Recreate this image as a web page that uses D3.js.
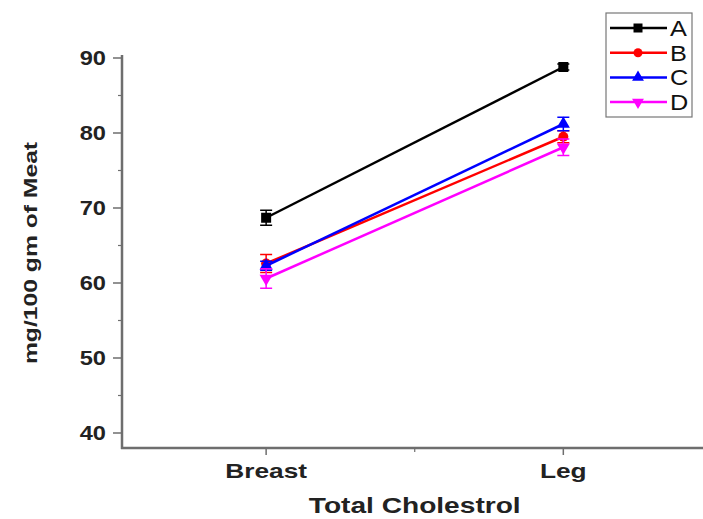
<!DOCTYPE html>
<html>
<head>
<meta charset="utf-8">
<script src="https://cdn.jsdelivr.net/npm/d3@7"></script>
<style>
  body { margin: 0; background: #fff; }
  text { font-family: "Liberation Sans", Arial, sans-serif; font-weight: bold; }
</style>
</head>
<body>
<div id="chart"></div>
<script>
// categories and series
const categories = ["Breast", "Leg"];
const seriesNames = ["A", "B", "C", "D"];
const seriesColors = ["#000000", "#ff0000", "#0000ff", "#ff00ff"];
const seriesValues = [
  [68.7, 88.8],
  [62.6, 79.5],
  [62.3, 81.2],
  [60.6, 78.1]
];
const seriesErrors = [
  [1.0, 0.4],
  [1.2, 0.8],
  [0.6, 0.9],
  [1.3, 1.1]
];
const yTicks = [40, 50, 60, 70, 80, 90];
const yMinorTicks = [45, 55, 65, 75, 85];

const W = 703, H = 519;
const svg = d3.select("#chart").append("svg")
  .attr("width", W).attr("height", H);

// x positions: category index 1, 2 on a linear scale
const x = d3.scaleLinear().domain([0.515, 2.47]).range([122, 703]);
const y = d3.scaleLinear().domain([38, 90.4]).range([448, 55]);

const axisColor = "#6e6e6e";
const STRETCH = 1.25; // the original lettering is wide

// y axis
const yAxis = svg.append("g").attr("transform", "translate(122,0)");
yAxis.append("line").attr("y1", y(90.4)).attr("y2", y(38) + 1)
  .attr("stroke", axisColor).attr("stroke-width", 2.5);
yAxis.selectAll("line.major").data(yTicks).enter().append("line")
  .attr("x1", -9).attr("x2", 0)
  .attr("y1", d => y(d)).attr("y2", d => y(d))
  .attr("stroke", axisColor).attr("stroke-width", 1.5);
yAxis.selectAll("line.minor").data(yMinorTicks).enter().append("line")
  .attr("x1", -4).attr("x2", 0)
  .attr("y1", d => y(d)).attr("y2", d => y(d))
  .attr("stroke", axisColor).attr("stroke-width", 1.2);
yAxis.selectAll("text").data(yTicks).enter().append("text")
  .attr("transform", d => `translate(-16,${y(d)}) scale(1.18,1)`)
  .attr("dy", "0.36em")
  .attr("text-anchor", "end").attr("font-size", 20).attr("fill", "#222")
  .text(d => d);

// x axis
const xAxis = svg.append("g").attr("transform", "translate(0,448)");
xAxis.append("line").attr("x1", 121).attr("x2", W)
  .attr("stroke", axisColor).attr("stroke-width", 2.5);
xAxis.selectAll("line.major").data([1, 2]).enter().append("line")
  .attr("x1", d => x(d)).attr("x2", d => x(d)).attr("y1", 0).attr("y2", 7)
  .attr("stroke", axisColor).attr("stroke-width", 1.5);
xAxis.append("line").attr("x1", x(1.5)).attr("x2", x(1.5)).attr("y1", 0).attr("y2", 4)
  .attr("stroke", axisColor).attr("stroke-width", 1.2);
xAxis.selectAll("text").data(categories).enter().append("text")
  .attr("transform", (d, i) => `translate(${x(i + 1)},30) scale(${STRETCH},1)`)
  .attr("text-anchor", "middle").attr("font-size", 21).attr("fill", "#222")
  .text(d => d);

// axis titles
svg.append("text")
  .attr("transform", `translate(${x(1.5)},513) scale(${STRETCH},1)`)
  .attr("text-anchor", "middle").attr("font-size", 22.5).attr("fill", "#222")
  .text("Total Cholestrol");
svg.append("text")
  .attr("transform", "translate(37,253) rotate(-90) scale(1.3,1)")
  .attr("text-anchor", "middle").attr("font-size", 19).attr("fill", "#222")
  .text("mg/100 gm of Meat");

// markers
function marker(g, i, color, s) {
  if (i === 0) {
    g.append("rect").attr("x", -s).attr("y", -s).attr("width", 2 * s).attr("height", 2 * s).attr("fill", color);
  } else if (i === 1) {
    g.append("circle").attr("r", s).attr("fill", color);
  } else if (i === 2) {
    g.append("path").attr("d", d3.symbol(d3.symbolTriangle, s * s * 3)()).attr("fill", color);
  } else {
    g.append("path").attr("d", d3.symbol(d3.symbolTriangle, s * s * 3)())
      .attr("transform", "rotate(180)").attr("fill", color);
  }
}

const line = d3.line().x((d, i) => x(i + 1)).y(d => y(d));

seriesNames.forEach((name, si) => {
  const color = seriesColors[si];
  const g = svg.append("g");
  g.append("path").datum(seriesValues[si]).attr("d", line)
    .attr("fill", "none").attr("stroke", color).attr("stroke-width", 2.5);
  seriesValues[si].forEach((v, ci) => {
    const cx = x(ci + 1), e = seriesErrors[si][ci];
    g.append("line").attr("x1", cx).attr("x2", cx)
      .attr("y1", y(v - e)).attr("y2", y(v + e))
      .attr("stroke", color).attr("stroke-width", 1.5);
    [v - e, v + e].forEach(t => {
      g.append("line").attr("x1", cx - 6).attr("x2", cx + 6)
        .attr("y1", y(t)).attr("y2", y(t))
        .attr("stroke", color).attr("stroke-width", 1.5);
    });
    marker(g.append("g").attr("transform", `translate(${cx},${y(v)})`), si, color, 5);
  });
});

// legend
const legend = svg.append("g").attr("transform", "translate(606,13)");
legend.append("rect").attr("width", 86).attr("height", 104)
  .attr("fill", "#fff").attr("stroke", "#777").attr("stroke-width", 1.2);
seriesNames.forEach((name, si) => {
  const ly = 15 + si * 24.7;
  const color = seriesColors[si];
  legend.append("line").attr("x1", 4).attr("x2", 61).attr("y1", ly).attr("y2", ly)
    .attr("stroke", color).attr("stroke-width", 2.5);
  marker(legend.append("g").attr("transform", `translate(32,${ly})`), si, color, 4.5);
  legend.append("text")
    .attr("transform", `translate(64,${ly}) scale(1.15,1)`)
    .attr("dy", "0.36em")
    .attr("font-size", 22).style("font-weight", "normal").attr("fill", "#111")
    .text(name);
});
</script>
</body>
</html>
